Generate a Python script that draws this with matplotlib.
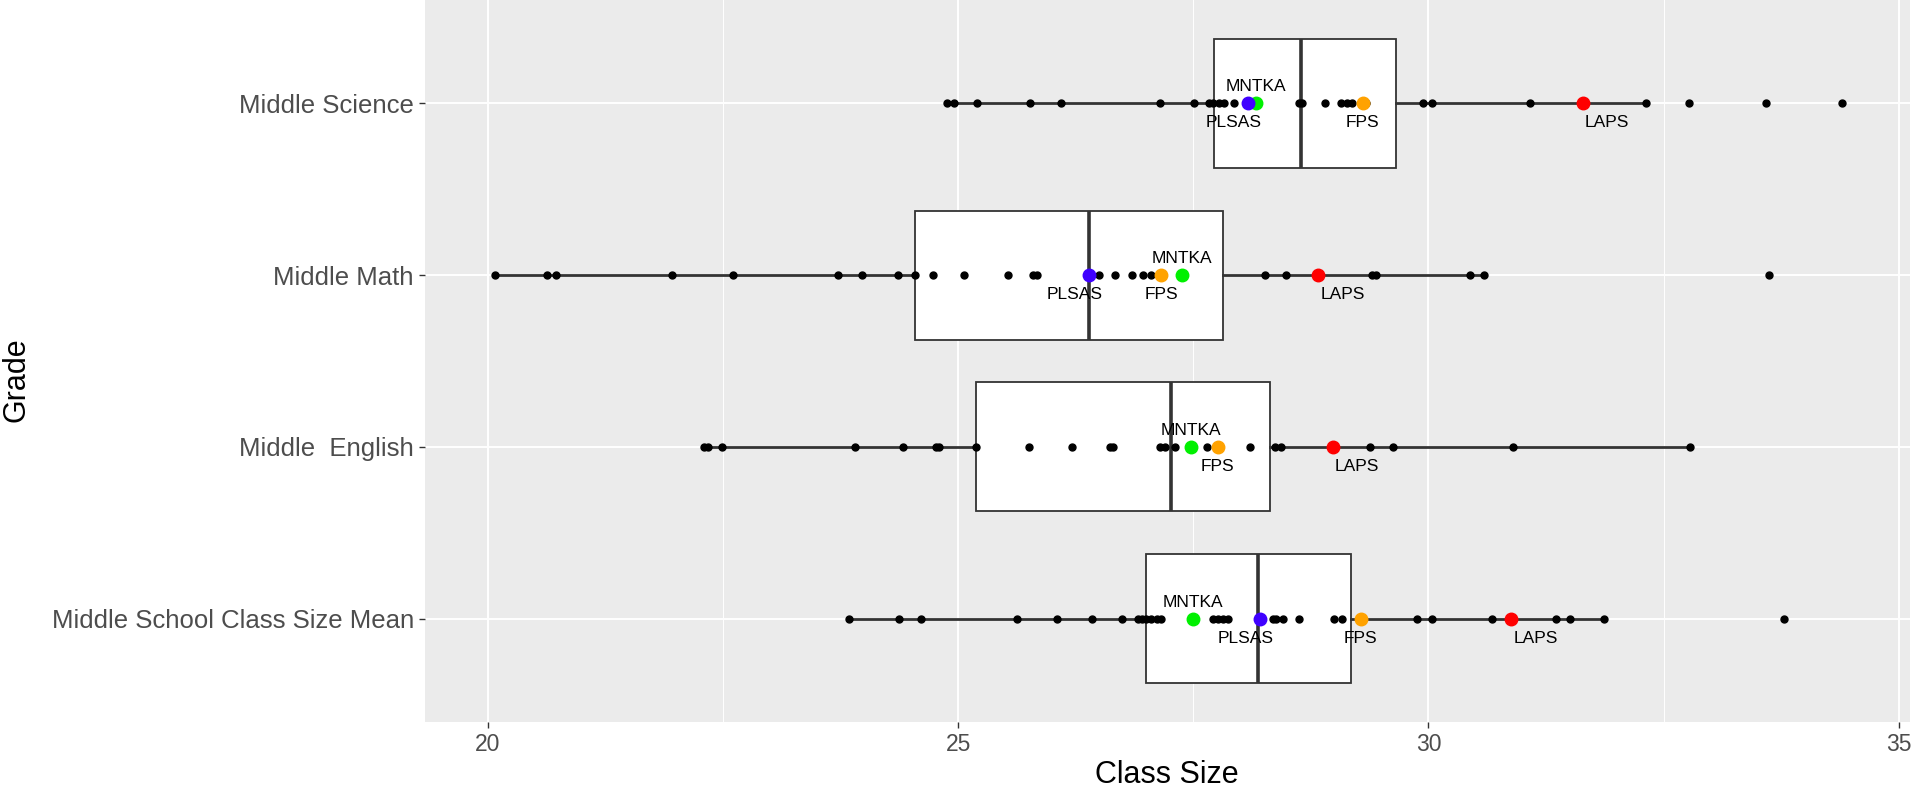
import matplotlib.pyplot as plt

plt.rcParams['font.family'] = ['Liberation Sans', 'DejaVu Sans']

# categories, bottom to top (same order ggplot uses)
grades = ['Middle School Class Size Mean', 'Middle  English', 'Middle Math', 'Middle Science']

# all district values, one list per grade
mean_pts = [23.84, 24.37, 24.60, 25.62, 26.05, 26.42, 26.74, 26.91, 26.95, 27.00, 27.05, 27.11,
            27.16, 27.71, 27.76, 27.82, 27.87, 28.35, 28.38, 28.45, 28.62, 29.00, 29.08, 29.88,
            30.04, 30.68, 31.36, 31.50, 31.87, 33.78]
english_pts = [22.30, 22.34, 22.49, 23.90, 24.41, 24.76, 24.80, 25.19, 25.75, 26.21, 26.61, 26.65,
               27.15, 27.20, 27.31, 27.64, 28.10, 28.37, 28.43, 29.38, 29.62, 30.90, 32.78]
math_pts = [20.07, 20.63, 20.72, 21.96, 22.61, 23.72, 23.98, 24.36, 24.54, 24.73, 25.06, 25.53,
            25.79, 25.84, 26.50, 26.67, 26.85, 26.96, 27.05, 28.26, 28.48, 29.40, 29.44, 30.44,
            30.59, 33.62]
science_pts = [24.88, 24.96, 25.20, 25.76, 26.09, 27.15, 27.51, 27.67, 27.71, 27.77, 27.83, 27.93,
               28.62, 28.66, 28.90, 29.07, 29.13, 29.19, 29.34, 29.94, 30.04, 31.08, 32.31, 32.77,
               33.59, 34.40]

# highlighted districts
districts = ['MNTKA', 'PLSAS', 'FPS', 'LAPS']
mean_districts = [27.50, 28.21, 29.28, 30.88]
english_districts = [27.47, None, 27.76, 28.98]
math_districts = [27.38, 26.39, 27.16, 28.83]
science_districts = [28.17, 28.08, 29.30, 31.64]

# box stats (bottom to top)
q1 = [27.00, 25.19, 24.54, 27.72]
median = [28.19, 27.26, 26.39, 28.64]
q3 = [29.18, 28.31, 27.82, 29.65]
whisker_lo = [23.84, 22.30, 20.07, 24.88]
whisker_hi = [31.87, 32.78, 30.59, 32.31]

colors = {'MNTKA': '#00F000', 'PLSAS': '#3F00FF', 'FPS': '#FFA200', 'LAPS': '#FF0000'}
label_dx = {'MNTKA': 0.0, 'PLSAS': -0.15, 'FPS': 0.0, 'LAPS': 0.26}
label_dy = {'MNTKA': 12, 'PLSAS': -14, 'FPS': -14, 'LAPS': -14}

all_pts = [mean_pts, english_pts, math_pts, science_pts]
all_districts = [mean_districts, english_districts, math_districts, science_districts]

fig = plt.figure(figsize=(19.2, 7.88), dpi=100)
ax = fig.add_axes([425 / 1920, 1 - 722 / 788, 1485 / 1920, 722 / 788])
ax.set_facecolor('#EBEBEB')
for s in ax.spines.values():
    s.set_visible(False)

stats = []
for i in range(len(grades)):
    stats.append({'med': median[i], 'q1': q1[i], 'q3': q3[i],
                  'whislo': whisker_lo[i], 'whishi': whisker_hi[i], 'fliers': []})
ax.bxp(stats, positions=range(len(grades)), widths=0.75, orientation='horizontal',
       patch_artist=True, showfliers=False, showcaps=False,
       boxprops=dict(facecolor='white', edgecolor='#333333', linewidth=1.3),
       medianprops=dict(color='#333333', linewidth=2.6),
       whiskerprops=dict(color='#333333', linewidth=2.0), zorder=2)

for i, pts in enumerate(all_pts):
    ax.plot(pts, [i] * len(pts), 'o', color='black', markersize=5, zorder=3)

for i, vals in enumerate(all_districts):
    for name, v in zip(districts, vals):
        if v is None:
            continue
        ax.plot(v, i, 'o', color=colors[name], markersize=9, zorder=4)
        ax.annotate(name, (v + label_dx[name], i), xytext=(0, label_dy[name]),
                    textcoords='offset points', ha='center', va='center',
                    fontsize=12.5, color='black', zorder=5)

ax.set_xlim(19.33, 35.12)
ax.set_ylim(-0.6, 3.6)
ax.set_xticks([20, 25, 30, 35])
ax.set_xticklabels(['20', '25', '30', '35'])
ax.set_xticks([22.5, 27.5, 32.5], minor=True)
ax.set_yticks(range(len(grades)))
ax.set_yticklabels(grades)
ax.grid(which='major', color='white', linewidth=1.4)
ax.grid(which='minor', axis='x', color='white', linewidth=0.7)
ax.set_axisbelow(True)
ax.tick_params(axis='x', which='minor', length=0)
ax.tick_params(axis='both', which='major', length=4, width=1, color='#333333',
               labelcolor='#4D4D4D', pad=4)
ax.tick_params(axis='y', labelsize=18.5)
ax.tick_params(axis='x', labelsize=16.5)

fig.text(16 / 1920, 1 - 380 / 788, 'Grade', rotation=90, ha='center', va='center', fontsize=22)
fig.text(1167 / 1920, 1 - 783 / 788, 'Class Size', ha='center', va='baseline', fontsize=22)

fig.savefig('out.png', dpi=100)
